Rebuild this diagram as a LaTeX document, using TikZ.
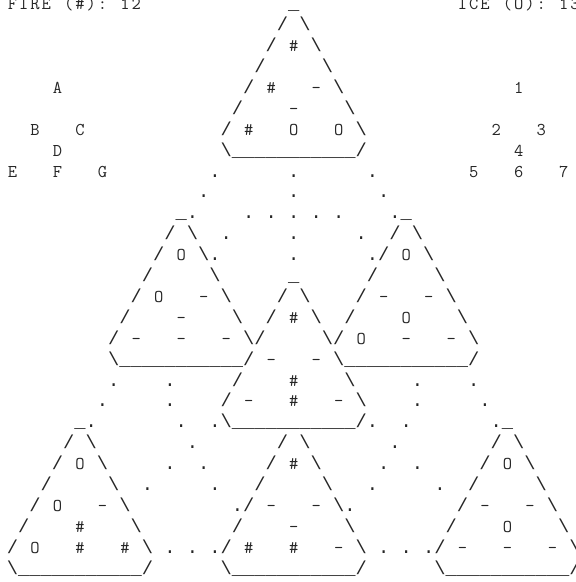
\documentclass[tikz,border=0pt]{standalone}
\usepackage{fontspec}
\newfontfamily\asciifont{Liberation Mono}
\newfontfamily\keyfont{Latin Modern Mono}
\tikzset{
    glyph/.style={font=\asciifont\fontsize{18.75}{21}\selectfont,inner sep=0pt,anchor=base,text=black!85},
    keyglyph/.style={glyph,font=\keyfont\fontsize{18}{21}\selectfont},
    dotmark/.style={glyph},
    triapex/.store in=\triapex,
    trileft/.store in=\trileft,
    triright/.store in=\triright,
    triapex=\_,
    trileft=/,
    triright=\textbackslash
}

% one board triangle: options, apex (column,row), then its seven cells
\newcommand\tri[9][]{%
    \begin{scope}[shift={(#2)},#1]
        \node[glyph] at (0,0.28) {\triapex};
        \node[glyph] at (-1,1.28) {/};
        \node[glyph] at (1,1.28) {\textbackslash};
        \node[glyph] at (-2,2.28) {/};
        \node[keyglyph] at (0,2.28) {#3};
        \node[glyph] at (2,2.28) {\textbackslash};
        \node[glyph] at (-3,3.28) {/};
        \node[glyph] at (3,3.28) {\textbackslash};
        \node[glyph] at (-4,4.28) {\trileft};
        \node[keyglyph] at (-2,4.28) {#4};
        \node[keyglyph] at (2,4.28) {#5};
        \node[glyph] at (4,4.28) {\triright};
        \node[glyph] at (-5,5.28) {/};
        \node[keyglyph] at (0,5.28) {#6};
        \node[glyph] at (5,5.28) {\textbackslash};
        \node[glyph] at (-6,6.28) {/};
        \node[keyglyph] at (-4,6.28) {#7};
        \node[keyglyph] at (0,6.28) {#8};
        \node[keyglyph] at (4,6.28) {#9};
        \node[glyph] at (6,6.28) {\textbackslash};
        \node[glyph] at (-6,7.28) {\textbackslash};
        \node[glyph] at (0,7.28) {\_\_\_\_\_\_\_\_\_\_\_};
        \node[glyph] at (6,7.28) {/};
    \end{scope}}

\begin{document}
\begin{tikzpicture}[x=11.25pt,y=-20.9pt]
    \useasboundingbox (-1.1111,-0.1914) rectangle (50.0889,27.6555);
    \clip (-1.1111,-0.1914) rectangle (50.0889,27.6555);

    % score lines, one letter per column
    \foreach \ch [count=\i from 0] in {F,I,R,E,{},{(},\#,{)},:,{},1,2}
        \node[keyglyph] (fire-\i) at (\i,0.28) {\ch};
    \foreach \ch [count=\i from 40] in {I,C,E,{},{(},O,{)},:,{},1,3}
        \node[keyglyph] (ice-\i) at (\i,0.28) {\ch};

    % key of the board, left and right
    \node[keyglyph] (kA) at (4,4.28) {A};
    \node[keyglyph] (kB) at (2,6.28) {B};
    \node[keyglyph] (kC) at (6,6.28) {C};
    \node[keyglyph] (kD) at (4,7.28) {D};
    \node[keyglyph] (kE) at (0,8.28) {E};
    \node[keyglyph] (kF) at (4,8.28) {F};
    \node[keyglyph] (kG) at (8,8.28) {G};
    \node[keyglyph] (k1) at (45,4.28) {1};
    \node[keyglyph] (k2) at (43,6.28) {2};
    \node[keyglyph] (k3) at (47,6.28) {3};
    \node[keyglyph] (k4) at (45,7.28) {4};
    \node[keyglyph] (k5) at (41,8.28) {5};
    \node[keyglyph] (k6) at (45,8.28) {6};
    \node[keyglyph] (k7) at (49,8.28) {7};

    % the seven triangles
    \tri{25,0}{\#}{\#}{-}{-}{\#}{O}{O}
    \tri{15,10}{O}{O}{-}{-}{-}{-}{-}
    \tri{35,10}{O}{-}{-}{O}{O}{-}{-}
    \tri[trileft=,triright=]{25,13}{\#}{-}{-}{\#}{-}{\#}{-}
    \tri{6,20}{O}{O}{-}{\#}{O}{\#}{\#}
    \tri[triapex=]{25,20}{\#}{-}{-}{-}{\#}{\#}{-}
    \tri{44,20}{O}{-}{-}{O}{-}{-}{-}

    % dotted links
    \foreach \c/\r in {18/8,25/8,32/8,17/9,25/9,33/9,
        16/10,21/10,23/10,25/10,27/10,29/10,34/10,
        19/11,25/11,31/11,18/12,25/12,32/12,
        9/18,14/18,36/18,41/18,8/19,14/19,36/19,42/19,
        7/20,15/20,18/20,32/20,35/20,43/20,16/21,34/21,
        14/22,17/22,33/22,36/22,12/23,18/23,32/23,38/23,
        20/24,30/24,14/26,16/26,18/26,33/26,35/26,37/26}
        \node[dotmark] at (\c,\r+0.28) {.};
\end{tikzpicture}
\end{document}
